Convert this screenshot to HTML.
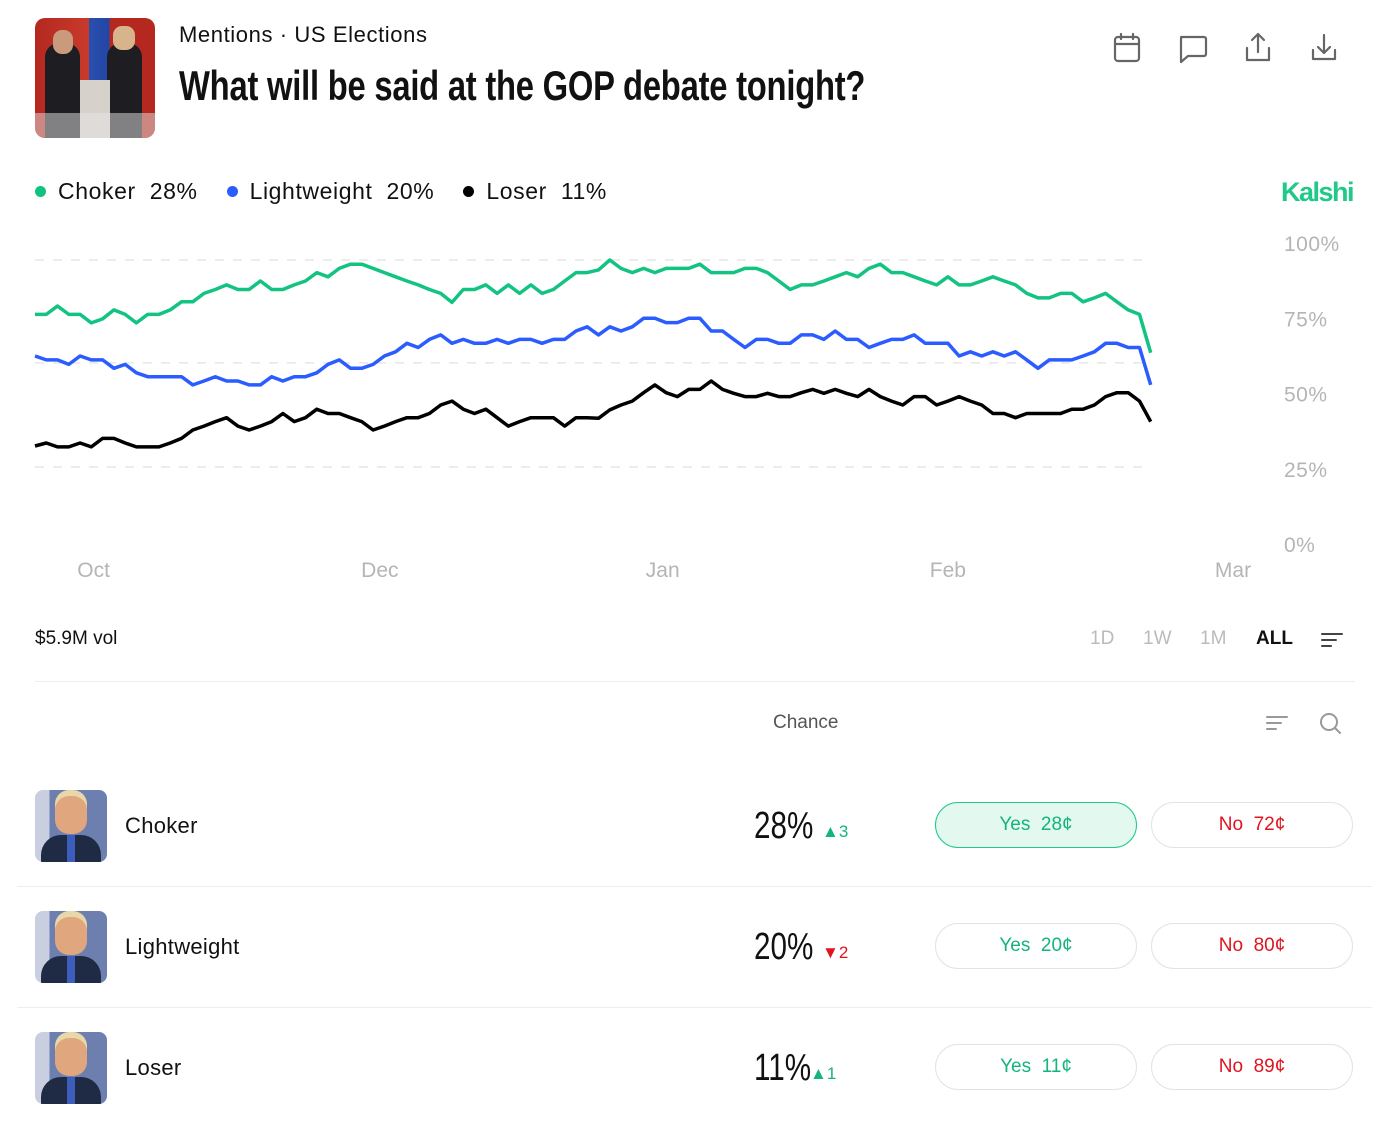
<!DOCTYPE html>
<html><head><meta charset="utf-8"><style>
body{margin:0;background:#fff;width:1397px;height:1122px;position:relative;overflow:hidden;font-family:"Liberation Sans",sans-serif;color:#111}
.a{position:absolute}
.cond{font-family:"Liberation Sans Narrow","Liberation Sans",sans-serif}
.btn{position:absolute;width:202px;height:46px;border:1px solid #e3e3e3;border-radius:24px;box-sizing:border-box;text-align:center;line-height:44px;font-size:19px}
.yes{color:#14b47c}.no{color:#e0141e}
.row-name{font-size:22px;color:#111;letter-spacing:.3px}
.pct{font-size:38px;transform:scaleX(.78);transform-origin:left}
.av{position:absolute;width:72px;height:72px;border-radius:8px;overflow:hidden;background:linear-gradient(90deg,#c9cfe0 0,#c9cfe0 20%,#6d7fae 20%,#6d7fae 100%)}
.sep{position:absolute;left:17px;width:1355px;height:1px;background:#eee}
</style></head><body>
<div class="a" style="left:35px;top:18px;width:120px;height:120px;border-radius:10px;overflow:hidden;background:linear-gradient(90deg,#b42820 0,#c83a2c 45%,#2a4fae 45%,#2346a6 62%,#b42820 62%)">
<div class="a" style="left:10px;top:25px;width:35px;height:95px;background:#1d1d22;border-radius:14px 14px 0 0"></div>
<div class="a" style="left:18px;top:12px;width:20px;height:24px;background:#c99a7c;border-radius:9px"></div>
<div class="a" style="left:72px;top:25px;width:35px;height:95px;background:#1d1d22;border-radius:14px 14px 0 0"></div>
<div class="a" style="left:78px;top:8px;width:22px;height:24px;background:#d8b48c;border-radius:9px"></div>
<div class="a" style="left:45px;top:62px;width:30px;height:58px;background:#d7d1cc"></div>
<div class="a" style="left:0;top:95px;width:120px;height:25px;background:rgba(230,230,230,.5)"></div>
</div>
<div class="a" style="left:179px;top:22px;font-size:22px;letter-spacing:.6px">Mentions · US Elections</div>
<div class="a cond" style="left:179px;top:62px;font-size:42px;font-weight:bold;color:#111;letter-spacing:-.3px;transform:scaleX(.78);transform-origin:left;white-space:nowrap">What will be said at the GOP debate tonight?</div>
<svg class="a" style="left:1110px;top:30px" width="235" height="40" viewBox="0 0 235 40" fill="none" stroke="#666" stroke-width="2.2" stroke-linecap="round" stroke-linejoin="round">
<g><rect x="5" y="7" width="24" height="24" rx="3"/><path d="M5 14h24M11 4v5M23 4v5"/></g>
<g><path d="M71 7h23a2 2 0 0 1 2 2v15a2 2 0 0 1-2 2H78l-7 6V9a2 2 0 0 1 2-2z"/></g>
<g><path d="M137 18v12h22V18M148 4v18M142 10l6-6 6 6"/></g>
<g><path d="M203 20v9h22v-9M214 5v18M208 17l6 6 6-6"/></g>
</svg>
<div class="a" style="left:35px;top:178px;font-size:23px;white-space:nowrap;letter-spacing:.6px">
<span><span style="display:inline-block;width:11px;height:11px;border-radius:50%;background:#0fc27d;margin-right:12px;vertical-align:2px"></span>Choker&nbsp; 28%</span>
<span style="margin-left:22px"><span style="display:inline-block;width:11px;height:11px;border-radius:50%;background:#2b5cff;margin-right:12px;vertical-align:2px"></span>Lightweight&nbsp; 20%</span>
<span style="margin-left:22px"><span style="display:inline-block;width:11px;height:11px;border-radius:50%;background:#000;margin-right:12px;vertical-align:2px"></span>Loser&nbsp; 11%</span>
</div>
<div class="a" style="left:1281px;top:177px;font-size:27px;font-weight:bold;color:#1fc98a;letter-spacing:-1.5px">Kalshi</div>
<svg class="a" id="chart" style="left:0;top:0" width="1397" height="600"></svg>
<div class="a" style="left:35px;top:628px;font-size:19px">$5.9M vol</div>
<div class="a" style="left:1090px;top:628px;font-size:19px;color:#bbb">1D</div>
<div class="a" style="left:1143px;top:628px;font-size:19px;color:#bbb">1W</div>
<div class="a" style="left:1200px;top:628px;font-size:19px;color:#bbb">1M</div>
<div class="a" style="left:1256px;top:628px;font-size:19px;font-weight:bold">ALL</div>
<svg class="a" style="left:1320px;top:630px" width="24" height="20" stroke="#444" stroke-width="2" stroke-linecap="round"><path d="M2 4h20M2 10h14M2 16h9"/></svg>
<div class="a" style="left:35px;top:681px;width:1320px;height:1px;background:#eee"></div>
<div class="a" style="left:773px;top:712px;font-size:19px;color:#555">Chance</div>
<svg class="a" style="left:1265px;top:714px" width="24" height="20" stroke="#999" stroke-width="2" stroke-linecap="round"><path d="M2 3h20M2 9h14M2 15h9"/></svg>
<svg class="a" style="left:1319px;top:712px" width="24" height="24" fill="none" stroke="#999" stroke-width="2" stroke-linecap="round"><circle cx="10" cy="10" r="8"/><path d="M16 16l5 5"/></svg>

<div>
<div class="av" style="left:35px;top:790px"><div class="a" style="left:20px;top:6px;width:32px;height:38px;border-radius:14px;background:#e0a77e;box-shadow:0 -6px 0 #e8d7a8"></div><div class="a" style="left:6px;top:45px;width:60px;height:30px;border-radius:20px 20px 0 0;background:#1f2a44"></div><div class="a" style="left:32px;top:45px;width:8px;height:27px;background:#3c5dbc"></div></div>
<div class="a row-name" style="left:125px;top:813px">Choker</div>
<div class="a pct cond" style="left:754px;top:805px">28%</div>
<div class="a" style="left:822px;top:822px;font-size:17px;color:#14b47c">▲3</div>
<div class="btn yes" style="left:935px;top:802px;background:#e3f8ef;border-color:#1fc98a">Yes&nbsp; 28¢</div>
<div class="btn no" style="left:1151px;top:802px">No&nbsp; 72¢</div>
</div>
<div class="sep" style="top:886px"></div>
<div>
<div class="av" style="left:35px;top:911px"><div class="a" style="left:20px;top:6px;width:32px;height:38px;border-radius:14px;background:#e0a77e;box-shadow:0 -6px 0 #e8d7a8"></div><div class="a" style="left:6px;top:45px;width:60px;height:30px;border-radius:20px 20px 0 0;background:#1f2a44"></div><div class="a" style="left:32px;top:45px;width:8px;height:27px;background:#3c5dbc"></div></div>
<div class="a row-name" style="left:125px;top:934px">Lightweight</div>
<div class="a pct cond" style="left:754px;top:926px">20%</div>
<div class="a" style="left:822px;top:943px;font-size:17px;color:#e0141e">▼2</div>
<div class="btn yes" style="left:935px;top:923px">Yes&nbsp; 20¢</div>
<div class="btn no" style="left:1151px;top:923px">No&nbsp; 80¢</div>
</div>
<div class="sep" style="top:1007px"></div>
<div>
<div class="av" style="left:35px;top:1032px"><div class="a" style="left:20px;top:6px;width:32px;height:38px;border-radius:14px;background:#e0a77e;box-shadow:0 -6px 0 #e8d7a8"></div><div class="a" style="left:6px;top:45px;width:60px;height:30px;border-radius:20px 20px 0 0;background:#1f2a44"></div><div class="a" style="left:32px;top:45px;width:8px;height:27px;background:#3c5dbc"></div></div>
<div class="a row-name" style="left:125px;top:1055px">Loser</div>
<div class="a pct cond" style="left:754px;top:1047px">11%</div>
<div class="a" style="left:810px;top:1064px;font-size:17px;color:#14b47c">▲1</div>
<div class="btn yes" style="left:935px;top:1044px">Yes&nbsp; 11¢</div>
<div class="btn no" style="left:1151px;top:1044px">No&nbsp; 89¢</div>
</div>

<script>
const chokerSeries=[76.6,76.6,79.4,76.6,76.6,73.8,75.1,78.1,76.6,73.8,76.6,76.6,78.1,80.8,80.8,83.6,84.9,86.4,84.9,84.9,87.7,84.9,84.9,86.4,87.7,90.5,89.1,91.9,93.3,93.3,91.9,90.5,89.1,87.7,86.4,84.9,83.6,80.6,84.9,84.9,86.4,83.6,86.4,83.6,86.4,83.6,84.9,87.7,90.5,90.5,91.4,94.7,91.9,90.5,91.9,90.5,91.9,91.9,91.9,93.3,90.5,90.5,90.5,91.9,91.9,90.5,87.7,84.9,86.4,86.4,87.7,89.1,90.5,89.1,91.9,93.3,90.5,90.5,89.1,87.7,86.4,89.1,86.4,86.4,87.7,89.1,87.7,86.4,83.6,82.1,82.1,83.6,83.6,80.8,82.1,83.6,80.8,78.1,76.6,63.9];
const lightweightSeries=[62.8,61.5,61.5,60.0,62.8,61.5,61.5,58.7,60.0,57.2,55.9,55.9,55.9,55.9,53.2,54.5,55.9,54.5,54.5,53.2,53.2,55.9,54.5,55.9,55.9,57.2,60.0,61.5,58.7,58.7,60.0,62.8,64.2,67.0,65.6,68.3,69.8,67.0,68.3,67.0,67.0,68.3,67.0,68.3,68.3,67.0,68.3,68.3,71.1,72.5,69.8,72.5,71.1,72.5,75.3,75.3,73.9,73.9,75.3,75.3,71.1,71.1,68.3,65.6,68.3,68.3,67.0,67.0,69.8,69.8,68.3,71.1,68.3,68.3,65.6,67.0,68.3,68.3,69.8,67.0,67.0,67.0,62.8,64.2,62.8,64.2,62.8,64.2,61.5,58.7,61.5,61.5,61.5,62.8,64.2,67.0,67.0,65.6,65.6,53.2];
const loserSeries=[32.9,33.9,32.6,32.6,33.9,32.6,35.4,35.4,33.9,32.6,32.6,32.6,33.9,35.4,38.2,39.5,41.0,42.3,39.5,38.2,39.5,41.0,43.7,41.0,42.3,45.1,43.7,43.7,42.3,41.0,38.2,39.5,41.0,42.3,42.3,43.7,46.5,47.8,45.1,43.7,45.1,42.3,39.5,41.0,42.3,42.3,42.3,39.5,42.3,42.3,42.1,44.9,46.5,47.8,50.6,53.2,50.6,49.3,51.7,51.7,54.5,51.7,50.4,49.3,49.3,50.4,49.3,49.3,50.6,51.7,50.4,51.7,50.4,49.3,51.7,49.3,47.8,46.5,49.3,49.3,46.5,47.8,49.3,47.8,46.5,43.7,43.7,42.3,43.7,43.7,43.7,43.7,45.1,45.1,46.5,49.3,50.6,50.6,47.8,41.0];
const yTickValues=[100,75,50,25,0];
const yTickLabels=["100%","75%","50%","25%","0%"];
const gridValues=[94.7,60.5,25.9];
const monthLabels=["Oct","Dec","Jan","Feb","Mar"];
const monthIndex=[5.2,30.6,55.7,81,106.3];

const X0=35,STEP=11.27;
function xScale(i){return X0+i*STEP;}
function yScale(v){return 545-v*3.01;}
const svg=document.getElementById('chart');
const NS='http://www.w3.org/2000/svg';
gridValues.forEach(g=>{
  const l=document.createElementNS(NS,'line');
  
  
  l.setAttribute('x1',35);l.setAttribute('x2',1150);
  l.setAttribute('y1',yScale(g));l.setAttribute('y2',yScale(g));
  l.setAttribute('stroke','#e6e6e6');l.setAttribute('stroke-width','1.5');l.setAttribute('stroke-dasharray','9 9');
  svg.appendChild(l);
});
yTickValues.forEach((v,k)=>{
  const t=document.createElementNS(NS,'text');
  
  
  t.setAttribute('x',1284);t.setAttribute('y',yScale(v)+7);
  t.setAttribute('font-size','21');t.setAttribute('fill','#b5b5b5');t.setAttribute('font-family','Liberation Sans, sans-serif');
  t.setAttribute('letter-spacing','0.5');
  t.textContent=yTickLabels[k];svg.appendChild(t);
});
monthLabels.forEach((m,k)=>{
  const t=document.createElementNS(NS,'text');
  
  
  t.setAttribute('x',xScale(monthIndex[k]));t.setAttribute('y',577);
  t.setAttribute('text-anchor','middle');
  t.setAttribute('font-size','21');t.setAttribute('fill','#b5b5b5');t.setAttribute('font-family','Liberation Sans, sans-serif');
  t.textContent=m;svg.appendChild(t);
});
function drawLine(data,color,name){
  const p=document.createElementNS(NS,'polyline');
  
  
  p.setAttribute('points',data.map((v,i)=>xScale(i).toFixed(1)+','+yScale(v).toFixed(1)).join(' '));
  p.setAttribute('fill','none');p.setAttribute('stroke',color);p.setAttribute('stroke-width','3.5');p.setAttribute('stroke-linejoin','round');
  svg.appendChild(p);
}
drawLine(chokerSeries,'#12c382','choker-line');
drawLine(lightweightSeries,'#2b5cff','lightweight-line');
drawLine(loserSeries,'#000','loser-line');
</script>
</body></html>
